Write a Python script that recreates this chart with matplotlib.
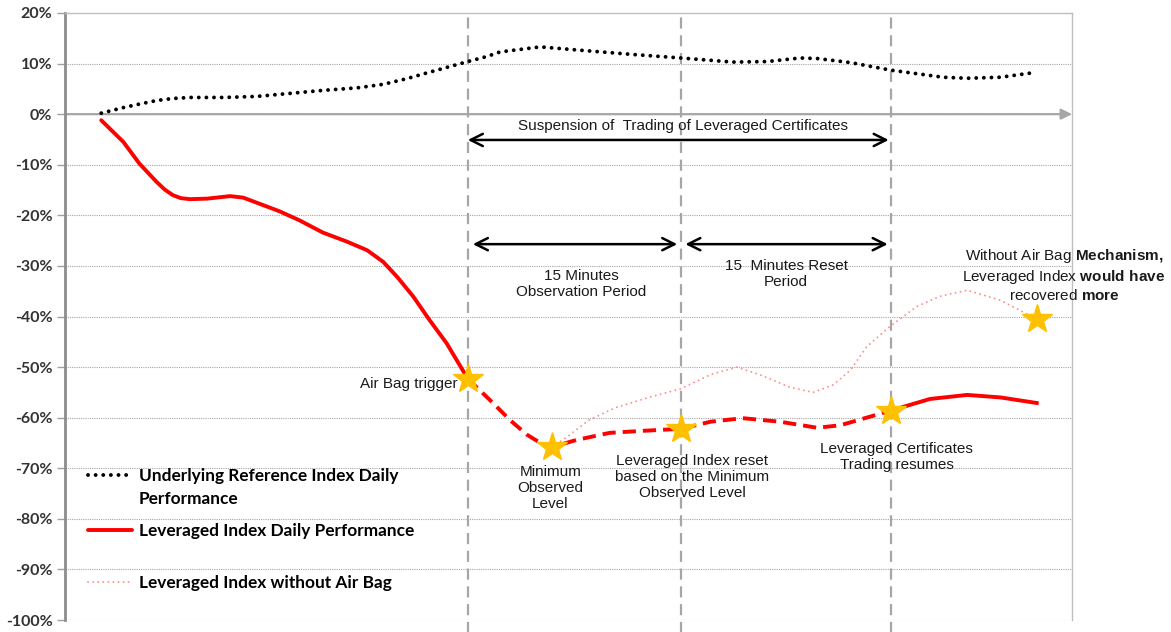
import numpy as np
import matplotlib.pyplot as plt
from matplotlib.legend_handler import HandlerLine2D

plt.rcParams['font.family'] = 'Liberation Sans'
plt.rcParams['mathtext.fontset'] = 'custom'
plt.rcParams['mathtext.rm'] = 'Liberation Sans'
plt.rcParams['mathtext.bf'] = 'Liberation Sans:bold'

# intraday time, arbitrary units (0..100 across the plot)
trigger_t = 40.0
reset_t = 61.2
resume_t = 82.0
min_t = 48.4

ref_t = [3.6, 5.8, 7.4, 9.1, 10.7, 12.4, 15.7, 19.0, 22.3, 25.6, 29.0, 31.6, 33.9,
         36.2, 38.2, 40.0, 41.9, 43.2, 47.2, 51.4, 56.4, 61.2, 66.3, 69.7, 73.0,
         74.7, 78.0, 82.0, 87.2, 89.6, 92.9, 95.8]
ref_perf = [0.2, 1.3, 2.0, 2.7, 3.1, 3.3, 3.3, 3.5, 4.1, 4.7, 5.2, 5.9, 7.0,
            8.3, 9.4, 10.4, 11.4, 12.3, 13.3, 12.6, 11.8, 11.1, 10.3, 10.4, 11.1,
            11.0, 10.2, 8.7, 7.3, 7.1, 7.3, 8.1]

lev_t = [3.6, 5.8, 7.4, 9.1, 9.9, 10.7, 11.5, 12.4, 14.1, 16.4, 17.7, 19.7, 21.3,
         23.3, 25.6, 28.0, 30.0, 31.6, 33.0, 34.6, 36.2, 37.9, 40.0, 42.5, 44.2,
         45.9, 47.2, 48.4, 50.8, 54.1, 57.4, 61.2, 64.1, 67.3, 71.0, 74.7, 77.0,
         79.6, 82.0, 85.9, 89.6, 92.9, 96.5]
lev_perf = [-1.2, -5.5, -9.8, -13.4, -14.9, -16.0, -16.6, -16.8, -16.7, -16.2, -16.5,
            -18.0, -19.2, -21.0, -23.4, -25.2, -26.9, -29.2, -32.2, -36.1, -40.7,
            -45.3, -52.3, -57.1, -60.5, -63.4, -65.0, -65.8, -64.4, -63.0, -62.6,
            -62.2, -60.8, -60.1, -60.8, -62.0, -61.5, -60.0, -58.6, -56.3, -55.5,
            -56.0, -57.1]

noab_t = [48.4, 50.0, 52.0, 54.7, 58.0, 61.1, 64.1, 66.7, 69.0, 72.0, 74.3, 76.3,
          78.0, 79.6, 81.9, 84.6, 86.9, 89.6, 92.9, 96.5]
noab_perf = [-65.8, -63.6, -60.5, -58.0, -56.0, -54.3, -51.5, -50.0, -51.5, -54.0,
             -55.0, -53.5, -50.6, -46.0, -42.0, -38.0, -36.0, -34.8, -36.8, -40.5]

yticks = list(range(-100, 21, 10))

lev_t = np.array(lev_t)
lev_perf = np.array(lev_perf)


class FirstLineHandler(HandlerLine2D):
    # put the legend line next to the first line of a two-line label
    def __init__(self, lift, **kw):
        super().__init__(**kw)
        self.lift = lift

    def create_artists(self, legend, orig_handle, xdescent, ydescent,
                       width, height, fontsize, trans):
        return super().create_artists(legend, orig_handle, xdescent,
                                      ydescent - 2 * self.lift, width, height,
                                      fontsize, trans)


fig = plt.figure(figsize=(11.71, 6.32), dpi=100)
ax = fig.add_axes([65 / 1171, 12 / 632, 1007 / 1171, 607 / 632])
ax.set_xlim(0, 100)
ax.set_ylim(-100, 20)

ax.set_yticks(yticks)
ax.set_yticklabels([f"{v}%" for v in yticks], family='Lato', fontweight='bold',
                   fontsize=11.5, color='#333333')
ax.set_xticks([])
ax.tick_params(axis='y', length=6, width=1, color='#A0A0A0', pad=3)
ax.yaxis.grid(True, linestyle=(0, (1, 1)), color='#A6A6A6', lw=0.8)
ax.set_axisbelow(True)

for s in ['top', 'right']:
    ax.spines[s].set_color('#BFBFBF')
    ax.spines[s].set_linewidth(1)
ax.spines['left'].set_color('#8C8C8C')
ax.spines['left'].set_linewidth(2)
ax.spines['bottom'].set_visible(False)

# 0% axis with arrow
ax.annotate('', xy=(100, 0), xytext=(0, 0),
            arrowprops=dict(arrowstyle='-|>', color='#A6A6A6', lw=1.6,
                            mutation_scale=16, shrinkA=0, shrinkB=0), zorder=2)

# event lines
for t in [trigger_t, reset_t, resume_t]:
    ax.plot([t, t], [-103, 19.5], color='#A6A6A6', lw=1.6, dashes=(5, 3),
            clip_on=False, zorder=2)

ref_line, = ax.plot(ref_t, ref_perf, color='black', lw=2.8,
                    linestyle=(0, (0.01, 1.95)), dash_capstyle='round', zorder=4,
                    label='Underlying Reference Index Daily\nPerformance')

pre = lev_t <= trigger_t
mid = (lev_t >= trigger_t) & (lev_t <= resume_t)
post = lev_t >= resume_t
lev_line, = ax.plot(lev_t[pre], lev_perf[pre], color='#FF0000', lw=2.8,
                    solid_capstyle='round', solid_joinstyle='round', zorder=5,
                    label='Leveraged Index Daily Performance')
ax.plot(lev_t[mid], lev_perf[mid], color='#FF0000', lw=2.8, dashes=(3.4, 1.8), zorder=5)
ax.plot(lev_t[post], lev_perf[post], color='#FF0000', lw=2.8,
        solid_joinstyle='round', zorder=5)

noab_line, = ax.plot(noab_t, noab_perf, color='#FF8C8C', lw=1.4,
                     linestyle=(0, (0.01, 2.6)), dash_capstyle='round', zorder=4,
                     label='Leveraged Index without Air Bag')

# stars
star_idx = np.isin(lev_t, [trigger_t, min_t, reset_t, resume_t])
ax.plot(lev_t[star_idx], lev_perf[star_idx], linestyle='none', marker='*',
        markersize=22, color='#FFC000', zorder=6)
ax.plot(noab_t[-1], noab_perf[-1], linestyle='none', marker='*',
        markersize=22, color='#FFC000', zorder=6)

# period arrows
arrow = dict(arrowstyle='<->', color='black', lw=1.8, mutation_scale=22,
             shrinkA=0, shrinkB=0)
ax.annotate('', xy=(81.8, -5.1), xytext=(trigger_t, -5.1), arrowprops=arrow, zorder=3)
ax.annotate('', xy=(60.8, -25.7), xytext=(40.5, -25.7), arrowprops=arrow, zorder=3)
ax.annotate('', xy=(81.7, -25.7), xytext=(61.6, -25.7), arrowprops=arrow, zorder=3)

tk = dict(fontsize=11, color='#1A1A1A', zorder=3)
ax.text(61.4, -2.4, 'Suspension of  Trading of Leveraged Certificates',
        ha='center', va='center', **tk)
ax.text(51.3, -33.6, '15 Minutes\nObservation Period', ha='center', va='center', **tk)
ax.text(71.6, -31.6, '15  Minutes Reset\nPeriod', ha='center', va='center', **tk)
ax.text(39.0, -53.4, 'Air Bag trigger', ha='right', va='center', **tk)
ax.text(48.2, -73.9, 'Minimum\nObserved\nLevel', ha='center', va='center', **tk)
ax.text(62.3, -71.7, 'Leveraged Index reset\nbased on the Minimum\nObserved Level',
        ha='center', va='center', **tk)
ax.text(82.6, -67.8, 'Leveraged Certificates\nTrading resumes',
        ha='center', va='center', **tk)
ax.text(99.2, -31.8,
        'Without Air Bag $\\mathbf{Mechanism,}$\n'
        'Leveraged Index $\\mathbf{would\\ have}$\n'
        'recovered $\\mathbf{more}$',
        ha='center', va='center', clip_on=False, **tk)

# legend
lfont = dict(family='Lato', weight='bold', size=12.4)
leg1 = ax.legend(handles=[ref_line, lev_line], loc='upper left',
                 bbox_to_anchor=(0.0228, 0.2505), frameon=False, prop=lfont,
                 borderpad=0, borderaxespad=0, handlelength=2.55,
                 handletextpad=0.42, labelspacing=0.9,
                 handler_map={ref_line: FirstLineHandler(lift=9.5)})
for t in leg1.get_texts():
    t.set_linespacing(1.55)
ax.add_artist(leg1)
ax.legend(handles=[noab_line], loc='upper left', bbox_to_anchor=(0.0228, 0.074),
          frameon=False, prop=lfont, borderpad=0, borderaxespad=0,
          handlelength=2.55, handletextpad=0.42)

fig.savefig('out.png', dpi=100)
